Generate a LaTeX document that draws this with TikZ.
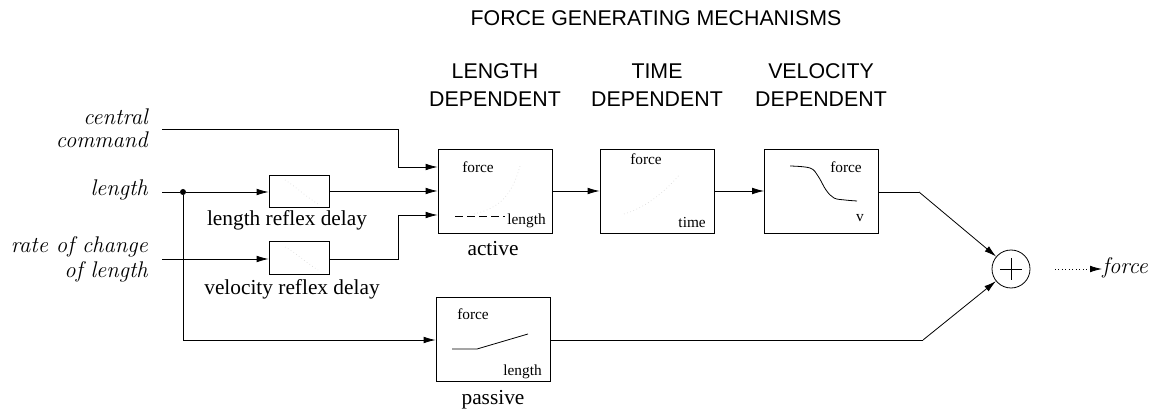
\documentclass[tikz,border=0pt]{standalone}
\usepackage{fontspec}
\setmainfont{Liberation Serif}
\setsansfont{Liberation Sans}
\newfontfamily\lmfont{Latin Modern Roman}
\usetikzlibrary{arrows.meta}
\tikzset{
  px/.style={x=0.75pt,y=-0.75pt},
  line/.style={line width=0.6pt},
  arr/.style={line width=0.6pt,-{Latex[length=9pt,width=5pt]}},
  blk/.style={draw,line width=0.6pt,inner sep=0pt,minimum width=85.5pt,minimum height=63pt},
  dly/.style={draw,line width=0.6pt,inner sep=0pt,minimum width=45pt,minimum height=24.5pt},
  hdr/.style={font=\sffamily\fontsize{16}{19}\selectfont,inner sep=0pt},
  inlab/.style={font=\lmfont\itshape\fontsize{17}{20}\selectfont,inner sep=0pt},
  captext/.style={font=\fontsize{16}{19}\selectfont,inner sep=0pt},
  axlab/.style={font=\fontsize{11.5}{13}\selectfont,inner sep=0pt},
  faint/.style={gray!30,line width=0.5pt,dotted},
  dotnode/.style={circle,fill,inner sep=0pt,minimum size=4.5pt},
}
\begin{document}
\begin{tikzpicture}[px]
\useasboundingbox (0,0) rectangle (1151,409);
% titles
\node[hdr,anchor=base] (title) at (656,26) {FORCE GENERATING MECHANISMS};
\node[hdr,anchor=base] (h1a) at (495,79) {LENGTH};
\node[hdr,anchor=base] (h1b) at (495,107) {DEPENDENT};
\node[hdr,anchor=base] (h2a) at (657,79) {TIME};
\node[hdr,anchor=base] (h2b) at (657,107) {DEPENDENT};
\node[hdr,anchor=base] (h3a) at (821,79) {VELOCITY};
\node[hdr,anchor=base] (h3b) at (821,107) {DEPENDENT};
% input labels
\node[inlab,anchor=base east] (l1a) at (148,125) {central};
\node[inlab,anchor=base east] (l1b) at (148,148) {command};
\node[inlab,anchor=base east] (l2) at (148,196) {length};
\node[inlab,anchor=base east] (l3a) at (148,253) {rate of change};
\node[inlab,anchor=base east] (l3b) at (148,277) {of length};
% blocks
\node[blk] (act) at (495,191) {};
\node[blk] (tim) at (657,191) {};
\node[blk] (vel) at (821.5,191) {};
\node[blk] (pas) at (493,339) {};
\node[dly] (d1) at (299,191.5) {};
\node[dly] (d2) at (299,258) {};
\node[circle,draw,line width=0.6pt,minimum size=28.5pt,inner sep=0pt] (sum) at (1011,269) {};
\draw[line] (sum.center) ++(-11,0) -- ++(22,0);
\draw[line] (sum.center) ++(0,-11) -- ++(0,22);
% captions
\node[captext,anchor=base] (c1) at (287,226) {length reflex delay};
\node[captext,anchor=base] (c2) at (292,294) {velocity reflex delay};
\node[captext,anchor=base] (c3) at (493,256) {active};
\node[captext,anchor=base] (c4) at (493,404) {passive};
\node[inlab,anchor=base west] (out) at (1102,274) {force};
% inside active
\node[axlab,anchor=base west] (a1) at (462,173) {force};
\node[axlab,anchor=base east] (a2) at (546,225) {length};
\draw[line,dash pattern=on 6pt off 3pt] (455,216) -- (505,216);
\draw[faint] (474,214) .. controls (500,208) and (512,195) .. (520,166);
% inside time
\node[axlab,anchor=base west] (t1) at (630,165) {force};
\node[axlab,anchor=base east] (t2) at (706,228) {time};
\draw[faint] (624,214) .. controls (645,208) and (665,192) .. (680,174);
% inside velocity
\node[axlab,anchor=base west] (v1) at (830,173) {force};
\node[axlab,anchor=base] (v2) at (860,222) {v};
\draw[line] plot[smooth,tension=0.6] coordinates {(790,166) (810,168) (818,176) (826,190) (834,198) (845,200) (857,201)};
% inside passive
\node[axlab,anchor=base west] (p1) at (457,319) {force};
\node[axlab,anchor=base east] (p2) at (542,375) {length};
\draw[line] (452,349) -- (477,349) -- (528,334);
% inside delays
\draw[faint] (285,180) .. controls (295,186) and (305,196) .. (318,204);
\draw[faint] (285,247) .. controls (295,252) and (305,262) .. (318,270);
% connectors
\coordinate (s1) at (162,129);
\coordinate (k1) at (398,129);
\coordinate (s2) at (162,192);
\coordinate (s3) at (162,259);
\coordinate (k2) at (398,259);
\node[dotnode] (br) at (183,192) {};
\coordinate (k3) at (183,340);
\coordinate (k4) at (919,192);
\coordinate (k5) at (923,340);
\draw[arr] (s1) -- (k1) |- ([yshift=18pt]act.west);
\draw[line] (s2) -- (br);
\draw[arr] (br) -- (d1.west |- br);
\draw[arr] (d1.east |- act.west) -- (act.west);
\draw[arr] (s3) -- (d2.west |- s3);
\draw[arr] (d2.east |- s3) -- (k2) |- ([yshift=-18pt]act.west);
\draw[arr] (br) -- (k3) -- (pas.west |- k3);
\draw[arr] (act.east) -- (tim.west);
\draw[arr] (tim.east) -- (vel.west);
\draw[line] (vel.east |- k4) -- (k4);
\draw[arr] (k4) -- (sum);
\draw[line] (pas.east |- k5) -- (k5);
\draw[arr] (k5) -- (sum);
\coordinate (f0) at (1055,269);
\draw[arr,dotted] (f0) -- (out.west |- f0);
\end{tikzpicture}
\end{document}
